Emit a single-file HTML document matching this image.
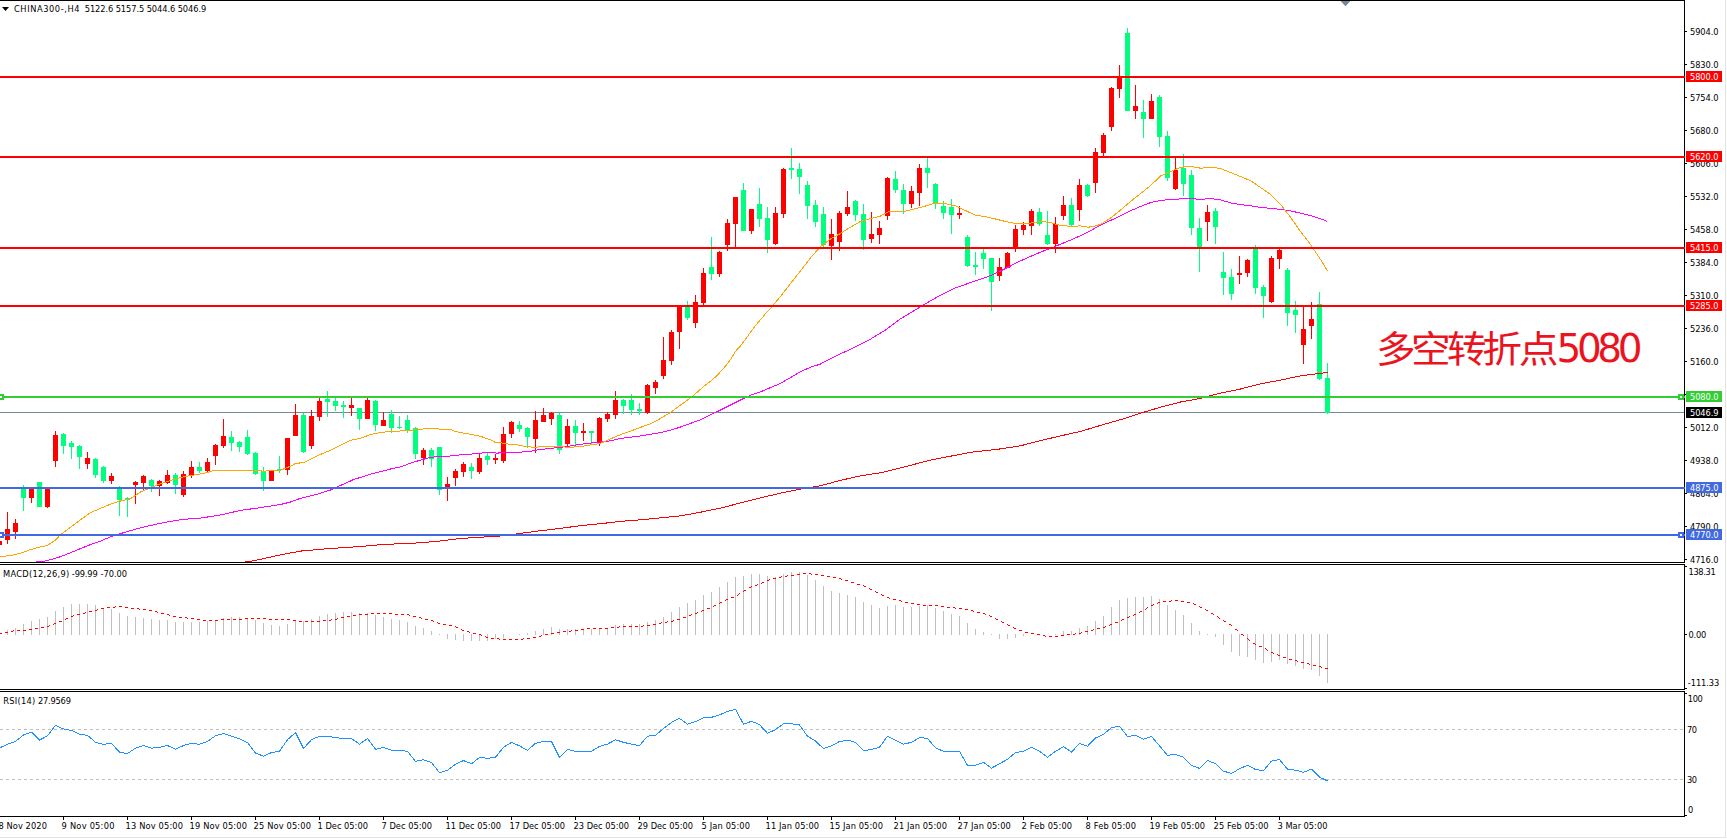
<!DOCTYPE html><html><head><meta charset="utf-8"><title>CHINA300 H4</title><style>html,body{margin:0;padding:0;background:#fff;width:1727px;height:839px;overflow:hidden}</style></head><body><svg width="1727" height="839" viewBox="0 0 1727 839" shape-rendering="crispEdges" style="display:block"><rect x="0" y="0" width="1727" height="839" fill="#FFFFFF"/><defs><clipPath id="cm"><rect x="0" y="1" width="1684" height="561"/></clipPath><clipPath id="cd"><rect x="0" y="565" width="1684" height="124"/></clipPath><clipPath id="cr"><rect x="0" y="692" width="1684" height="124"/></clipPath></defs><g clip-path="url(#cm)"><rect x="0" y="412" width="1684" height="1" fill="#778899"/><path fill="#FF0000" d="M-1 541h1v4h-1zM-3 541h5v4h-5zM7 512h1v32h-1zM5 529h5v11h-5zM15 519h1v20h-1zM13 523h5v9h-5zM31 487h1v16h-1zM29 489h5v9h-5zM47 489h1v19h-1zM45 489h5v18h-5zM55 431h1v36h-1zM53 435h5v26h-5zM87 452h1v17h-1zM85 458h5v6h-5zM111 473h1v11h-1zM109 476h5v5h-5zM135 481h1v23h-1zM133 482h5v3h-5zM143 475h1v16h-1zM141 476h5v7h-5zM159 480h1v16h-1zM157 481h5v5h-5zM167 470h1v14h-1zM165 475h5v8h-5zM183 471h1v26h-1zM181 474h5v21h-5zM191 461h1v17h-1zM189 467h5v9h-5zM207 458h1v14h-1zM205 462h5v9h-5zM215 444h1v21h-1zM213 445h5v11h-5zM223 419h1v29h-1zM221 436h5v10h-5zM271 470h1v11h-1zM269 470h5v11h-5zM287 438h1v37h-1zM285 438h5v32h-5zM295 404h1v32h-1zM293 415h5v21h-5zM311 410h1v39h-1zM309 416h5v30h-5zM319 398h1v23h-1zM317 401h5v16h-5zM351 398h1v18h-1zM349 405h5v3h-5zM367 398h1v21h-1zM365 400h5v19h-5zM383 412h1v14h-1zM381 420h5v6h-5zM423 448h1v17h-1zM421 450h5v8h-5zM447 477h1v24h-1zM445 484h5v3h-5zM455 469h1v17h-1zM453 471h5v7h-5zM463 462h1v15h-1zM461 464h5v8h-5zM479 453h1v21h-1zM477 458h5v14h-5zM495 454h1v10h-1zM493 458h5v2h-5zM503 427h1v36h-1zM501 434h5v27h-5zM511 421h1v17h-1zM509 422h5v12h-5zM535 411h1v42h-1zM533 420h5v19h-5zM543 408h1v14h-1zM541 415h5v7h-5zM551 412h1v13h-1zM549 413h5v6h-5zM567 419h1v27h-1zM565 426h5v18h-5zM583 423h1v18h-1zM581 431h5v2h-5zM599 417h1v29h-1zM597 418h5v25h-5zM607 412h1v10h-1zM605 414h5v5h-5zM615 391h1v28h-1zM613 400h5v15h-5zM647 384h1v30h-1zM645 385h5v28h-5zM655 380h1v14h-1zM653 382h5v6h-5zM663 337h1v42h-1zM661 360h5v16h-5zM671 330h1v35h-1zM669 332h5v29h-5zM679 305h1v44h-1zM677 306h5v26h-5zM695 295h1v33h-1zM693 302h5v21h-5zM703 268h1v37h-1zM701 273h5v30h-5zM719 251h1v26h-1zM717 252h5v22h-5zM727 219h1v32h-1zM725 223h5v22h-5zM735 197h1v50h-1zM733 197h5v27h-5zM751 209h1v25h-1zM749 209h5v22h-5zM775 207h1v38h-1zM773 213h5v31h-5zM783 168h1v50h-1zM781 169h5v45h-5zM831 219h1v41h-1zM829 234h5v12h-5zM839 211h1v40h-1zM837 213h5v29h-5zM847 191h1v25h-1zM845 207h5v7h-5zM871 212h1v31h-1zM869 234h5v5h-5zM879 221h1v23h-1zM877 228h5v7h-5zM887 177h1v43h-1zM885 178h5v38h-5zM911 186h1v22h-1zM909 191h5v13h-5zM919 164h1v42h-1zM917 168h5v25h-5zM959 206h1v13h-1zM957 213h5v2h-5zM999 258h1v23h-1zM997 267h5v9h-5zM1007 252h1v16h-1zM1005 253h5v15h-5zM1015 225h1v27h-1zM1013 229h5v19h-5zM1023 222h1v13h-1zM1021 225h5v5h-5zM1031 209h1v26h-1zM1029 211h5v15h-5zM1055 217h1v36h-1zM1053 224h5v20h-5zM1063 196h1v24h-1zM1061 205h5v11h-5zM1079 179h1v42h-1zM1077 185h5v25h-5zM1095 148h1v45h-1zM1093 152h5v31h-5zM1103 133h1v24h-1zM1101 135h5v18h-5zM1111 87h1v44h-1zM1109 88h5v39h-5zM1119 65h1v33h-1zM1117 78h5v11h-5zM1135 85h1v34h-1zM1133 106h5v5h-5zM1151 94h1v25h-1zM1149 101h5v18h-5zM1175 157h1v33h-1zM1173 170h5v19h-5zM1207 205h1v36h-1zM1205 212h5v10h-5zM1239 256h1v28h-1zM1237 273h5v2h-5zM1247 259h1v18h-1zM1245 260h5v13h-5zM1271 256h1v47h-1zM1269 258h5v44h-5zM1279 248h1v21h-1zM1277 250h5v9h-5zM1303 306h1v58h-1zM1301 329h5v16h-5zM1311 302h1v37h-1zM1309 319h5v7h-5z"/><path fill="#00FF7F" d="M23 485h1v26h-1zM21 489h5v9h-5zM39 482h1v25h-1zM37 482h5v25h-5zM63 433h1v21h-1zM61 434h5v12h-5zM71 441h1v18h-1zM69 443h5v4h-5zM79 445h1v24h-1zM77 446h5v11h-5zM95 458h1v20h-1zM93 459h5v16h-5zM103 466h1v17h-1zM101 467h5v14h-5zM119 486h1v30h-1zM117 487h5v13h-5zM127 497h1v20h-1zM125 498h5v2h-5zM151 479h1v13h-1zM149 480h5v6h-5zM175 473h1v21h-1zM173 475h5v10h-5zM199 462h1v11h-1zM197 467h5v4h-5zM231 431h1v20h-1zM229 437h5v6h-5zM239 441h1v11h-1zM237 442h5v5h-5zM247 430h1v25h-1zM245 437h5v17h-5zM255 452h1v23h-1zM253 453h5v21h-5zM263 467h1v24h-1zM261 471h5v10h-5zM279 456h1v17h-1zM277 469h5v1h-5zM303 413h1v40h-1zM301 415h5v37h-5zM327 391h1v26h-1zM325 399h5v3h-5zM335 398h1v13h-1zM333 401h5v5h-5zM343 401h1v17h-1zM341 405h5v2h-5zM359 408h1v22h-1zM357 408h5v11h-5zM375 400h1v31h-1zM373 401h5v24h-5zM391 410h1v23h-1zM389 414h5v14h-5zM399 416h1v13h-1zM397 427h5v1h-5zM407 415h1v18h-1zM405 420h5v10h-5zM415 427h1v32h-1zM413 428h5v26h-5zM431 448h1v19h-1zM429 450h5v9h-5zM439 447h1v48h-1zM437 447h5v43h-5zM471 463h1v16h-1zM469 467h5v4h-5zM487 453h1v12h-1zM485 456h5v4h-5zM519 421h1v11h-1zM517 425h5v4h-5zM527 427h1v21h-1zM525 428h5v9h-5zM559 413h1v41h-1zM557 415h5v35h-5zM575 420h1v25h-1zM573 426h5v7h-5zM591 431h1v14h-1zM589 431h5v2h-5zM623 399h1v15h-1zM621 400h5v6h-5zM631 394h1v21h-1zM629 400h5v10h-5zM639 403h1v12h-1zM637 409h5v2h-5zM687 301h1v19h-1zM685 307h5v11h-5zM711 237h1v43h-1zM709 267h5v7h-5zM743 183h1v48h-1zM741 190h5v41h-5zM759 188h1v39h-1zM757 204h5v15h-5zM767 207h1v46h-1zM765 218h5v22h-5zM791 148h1v31h-1zM789 168h5v2h-5zM799 163h1v31h-1zM797 169h5v8h-5zM807 181h1v38h-1zM805 185h5v21h-5zM815 200h1v27h-1zM813 205h5v17h-5zM823 207h1v40h-1zM821 214h5v31h-5zM855 200h1v21h-1zM853 201h5v14h-5zM863 204h1v46h-1zM861 214h5v26h-5zM895 171h1v22h-1zM893 179h5v11h-5zM903 184h1v30h-1zM901 190h5v14h-5zM927 158h1v30h-1zM925 168h5v5h-5zM935 183h1v26h-1zM933 184h5v19h-5zM943 201h1v18h-1zM941 206h5v7h-5zM951 199h1v35h-1zM949 207h5v8h-5zM967 235h1v32h-1zM965 237h5v29h-5zM975 252h1v23h-1zM973 265h5v2h-5zM983 249h1v20h-1zM981 253h5v6h-5zM991 258h1v53h-1zM989 258h5v24h-5zM1039 208h1v18h-1zM1037 212h5v12h-5zM1047 211h1v34h-1zM1045 235h5v9h-5zM1071 198h1v28h-1zM1069 205h5v20h-5zM1087 184h1v13h-1zM1085 185h5v11h-5zM1127 28h1v83h-1zM1125 33h5v78h-5zM1143 100h1v38h-1zM1141 112h5v7h-5zM1159 95h1v52h-1zM1157 97h5v40h-5zM1167 131h1v50h-1zM1165 136h5v42h-5zM1183 154h1v42h-1zM1181 168h5v16h-5zM1191 170h1v65h-1zM1189 175h5v53h-5zM1199 218h1v54h-1zM1197 228h5v19h-5zM1215 208h1v36h-1zM1213 211h5v16h-5zM1223 252h1v43h-1zM1221 272h5v6h-5zM1231 269h1v31h-1zM1229 277h5v17h-5zM1255 245h1v49h-1zM1253 249h5v39h-5zM1263 285h1v33h-1zM1261 287h5v9h-5zM1287 268h1v58h-1zM1285 270h5v43h-5zM1295 301h1v32h-1zM1293 310h5v5h-5zM1319 292h1v88h-1zM1317 304h5v75h-5zM1327 363h1v51h-1zM1325 378h5v35h-5z"/><polyline fill="none" stroke="#FF0000" stroke-width="1" points="243.5,562.3 255.5,560.4 280.5,554.9 300.5,551.1 320.5,549.3 340.5,547.8 360.5,546.5 380.5,544.7 400.5,543.7 420.5,542.8 440.5,541.0 460.5,538.5 480.5,537.2 500.5,536.0 523.5,533.0 540.5,530.7 560.5,528.4 580.5,525.6 600.5,523.7 620.5,521.4 640.5,519.8 660.5,517.9 680.5,515.9 700.5,512.2 720.5,508.2 740.5,502.9 760.5,497.8 780.5,493.2 800.5,489.0 820.5,485.7 840.5,480.4 860.5,475.8 880.5,472.8 890.5,470.5 930.5,460.1 970.5,452.3 1000.5,448.9 1020.5,445.8 1040.5,440.6 1060.5,435.9 1080.5,431.4 1100.5,425.4 1120.5,419.7 1140.5,413.2 1160.5,407.2 1180.5,402.0 1200.5,398.4 1220.5,393.1 1240.5,389.0 1260.5,383.8 1280.5,380.1 1300.5,375.9 1320.5,373.3 1327.5,372.3" /><polyline fill="none" stroke="#FF00FF" stroke-width="1" points="35.5,561.4 43.5,561.4 48.5,560.2 60.5,556.7 70.5,552.7 80.5,548.6 90.5,544.6 100.5,541.1 110.5,536.8 120.5,533.6 130.5,530.7 140.5,527.8 150.5,525.5 160.5,523.2 170.5,521.4 180.5,519.7 190.5,518.8 200.5,518.1 220.5,515.0 240.5,510.4 260.5,507.6 280.5,504.5 290.5,502.0 300.5,498.3 320.5,493.3 330.5,490.0 340.5,485.5 353.5,479.6 370.5,474.2 380.5,471.7 390.5,469.0 400.5,467.0 410.5,463.2 420.5,460.1 430.5,457.4 440.5,456.3 450.5,456.0 460.5,454.8 470.5,454.1 480.5,453.3 485.5,452.4 492.5,452.4 497.5,453.3 500.5,452.4 520.5,452.4 525.5,451.4 530.5,451.2 535.5,450.3 540.5,449.5 550.5,448.4 560.5,447.4 570.5,446.0 580.5,444.3 590.5,443.1 600.5,442.0 610.5,440.8 620.5,438.4 630.5,437.2 640.5,435.9 650.5,434.3 660.5,432.5 670.5,430.3 680.5,427.0 690.5,423.4 700.5,419.7 710.5,414.9 720.5,410.0 730.5,405.0 740.5,400.0 750.5,395.1 760.5,391.9 770.5,387.6 780.5,383.4 790.5,377.6 800.5,371.6 810.5,367.3 820.5,364.0 830.5,358.6 850.5,349.2 870.5,339.1 885.5,330.0 900.5,318.8 920.5,306.8 937.5,296.8 953.5,288.6 970.5,282.6 987.5,276.8 995.5,273.4 1003.5,269.5 1020.5,260.9 1037.5,253.4 1054.5,246.7 1070.5,240.1 1087.5,232.5 1100.5,225.0 1110.5,220.5 1120.5,215.8 1130.5,210.8 1140.5,206.5 1150.5,202.6 1160.5,200.4 1170.5,199.6 1180.5,198.9 1190.5,198.6 1200.5,199.3 1210.5,198.6 1220.5,199.8 1230.5,202.9 1240.5,204.6 1250.5,205.8 1260.5,207.4 1270.5,208.4 1280.5,209.4 1290.5,210.8 1300.5,213.2 1310.5,215.5 1320.5,218.7 1327.5,221.5" /><polyline fill="none" stroke="#FFA500" stroke-width="1" points="0.5,556.5 10.5,555.6 20.5,553.3 30.5,549.6 40.5,546.9 47.5,545.4 55.5,540.0 60.5,534.7 70.5,527.2 80.5,519.7 90.5,512.7 100.5,508.3 110.5,504.2 120.5,501.0 130.5,498.6 140.5,492.0 150.5,487.7 160.5,483.8 170.5,480.5 180.5,477.6 190.5,475.5 200.5,474.0 210.5,471.7 213.5,470.3 255.5,470.3 260.5,470.6 263.5,471.7 268.5,470.3 280.5,470.2 290.5,466.2 295.5,463.5 304.5,462.4 310.5,459.2 320.5,454.4 330.5,450.3 340.5,445.3 350.5,440.4 360.5,438.3 370.5,434.5 380.5,432.5 390.5,431.4 400.5,431.0 410.5,430.3 420.5,429.4 428.5,428.2 435.5,428.2 440.5,429.4 450.5,429.4 455.5,431.5 462.5,433.0 470.5,434.2 480.5,436.3 490.5,439.8 495.5,442.5 500.5,442.7 508.5,444.1 515.5,444.6 520.5,445.5 525.5,446.5 535.5,447.4 540.5,446.5 555.5,446.7 570.5,447.2 580.5,446.6 590.5,445.0 600.5,443.4 610.5,438.8 620.5,434.7 630.5,431.1 640.5,427.4 650.5,423.8 660.5,418.5 670.5,412.4 680.5,405.1 690.5,397.8 693.5,395.4 700.5,389.2 705.5,384.9 710.5,381.3 715.5,376.9 720.5,371.8 725.5,366.1 730.5,359.6 735.5,351.3 740.5,345.9 745.5,339.3 750.5,332.2 755.5,325.6 760.5,319.7 765.5,313.7 770.5,308.3 780.5,296.5 790.5,283.6 800.5,270.8 810.5,257.9 820.5,246.5 830.5,239.0 840.5,233.4 850.5,227.1 860.5,221.4 870.5,218.6 880.5,216.0 887.5,212.1 895.5,211.1 905.5,211.1 915.5,208.6 925.5,206.0 935.5,203.0 945.5,203.8 955.5,205.7 960.5,208.2 970.5,212.9 975.5,215.2 985.5,216.7 995.5,219.0 1005.5,221.5 1015.5,223.4 1025.5,223.4 1035.5,222.7 1040.5,221.3 1050.5,222.7 1060.5,225.4 1070.5,226.3 1080.5,225.9 1088.5,227.2 1095.5,225.9 1100.5,224.4 1110.5,218.1 1120.5,210.1 1130.5,201.5 1140.5,193.6 1150.5,185.7 1160.5,176.0 1170.5,171.5 1180.5,167.4 1190.5,166.3 1200.5,168.2 1210.5,167.3 1220.5,168.4 1230.5,172.5 1240.5,176.5 1250.5,180.6 1260.5,187.5 1270.5,194.3 1280.5,204.3 1290.5,217.2 1300.5,231.5 1310.5,244.4 1320.5,259.4 1327.5,271.0" /></g><g clip-path="url(#cd)"><path fill="#C0C0C0" d="M7 630h1v5h-1zM15 628h1v7h-1zM23 624h1v11h-1zM31 621h1v14h-1zM39 619h1v16h-1zM47 617h1v18h-1zM55 611h1v24h-1zM63 607h1v28h-1zM71 604h1v31h-1zM79 604h1v31h-1zM87 604h1v31h-1zM95 605h1v30h-1zM103 608h1v27h-1zM111 609h1v26h-1zM119 613h1v22h-1zM127 616h1v19h-1zM135 617h1v18h-1zM143 618h1v17h-1zM151 619h1v16h-1zM159 620h1v15h-1zM167 620h1v15h-1zM175 622h1v13h-1zM183 622h1v13h-1zM191 622h1v13h-1zM199 622h1v13h-1zM207 621h1v14h-1zM215 620h1v15h-1zM223 618h1v17h-1zM231 617h1v18h-1zM239 617h1v18h-1zM247 618h1v17h-1zM255 620h1v15h-1zM263 623h1v12h-1zM271 625h1v10h-1zM279 626h1v9h-1zM287 624h1v11h-1zM295 621h1v14h-1zM303 621h1v14h-1zM311 619h1v16h-1zM319 616h1v19h-1zM327 614h1v21h-1zM335 613h1v22h-1zM343 612h1v23h-1zM351 612h1v23h-1zM359 613h1v22h-1zM367 613h1v22h-1zM375 615h1v20h-1zM383 617h1v18h-1zM391 619h1v16h-1zM399 620h1v15h-1zM407 622h1v13h-1zM415 626h1v9h-1zM423 628h1v7h-1zM431 631h1v4h-1zM439 634h1v1h-1zM447 634h1v5h-1zM455 634h1v6h-1zM463 634h1v7h-1zM471 634h1v7h-1zM479 634h1v7h-1zM487 634h1v7h-1zM495 634h1v5h-1zM503 634h1v4h-1zM519 634h1v1h-1zM527 633h1v2h-1zM535 631h1v4h-1zM543 629h1v6h-1zM551 627h1v8h-1zM559 629h1v6h-1zM567 629h1v6h-1zM575 629h1v6h-1zM583 629h1v6h-1zM591 629h1v6h-1zM599 628h1v7h-1zM607 628h1v7h-1zM615 625h1v10h-1zM623 624h1v11h-1zM631 624h1v11h-1zM639 624h1v11h-1zM647 622h1v13h-1zM655 620h1v15h-1zM663 617h1v18h-1zM671 612h1v23h-1zM679 607h1v28h-1zM687 603h1v32h-1zM695 600h1v35h-1zM703 595h1v40h-1zM711 592h1v43h-1zM719 587h1v48h-1zM727 582h1v53h-1zM735 577h1v58h-1zM743 576h1v59h-1zM751 574h1v61h-1zM759 574h1v61h-1zM767 576h1v59h-1zM775 577h1v58h-1zM783 574h1v61h-1zM791 572h1v63h-1zM799 572h1v63h-1zM807 575h1v60h-1zM815 580h1v55h-1zM823 586h1v49h-1zM831 591h1v44h-1zM839 593h1v42h-1zM847 595h1v40h-1zM855 597h1v38h-1zM863 602h1v33h-1zM871 605h1v30h-1zM879 608h1v27h-1zM887 606h1v29h-1zM895 605h1v30h-1zM903 607h1v28h-1zM911 607h1v28h-1zM919 606h1v29h-1zM927 605h1v30h-1zM935 608h1v27h-1zM943 611h1v24h-1zM951 614h1v21h-1zM959 616h1v19h-1zM967 623h1v12h-1zM975 629h1v6h-1zM983 632h1v3h-1zM991 634h1v1h-1zM999 634h1v5h-1zM1007 634h1v5h-1zM1015 634h1v4h-1zM1023 634h1v2h-1zM1055 634h1v1h-1zM1063 631h1v4h-1zM1071 631h1v4h-1zM1079 628h1v7h-1zM1087 626h1v9h-1zM1095 621h1v14h-1zM1103 616h1v19h-1zM1111 607h1v28h-1zM1119 600h1v35h-1zM1127 598h1v37h-1zM1135 597h1v38h-1zM1143 597h1v38h-1zM1151 596h1v39h-1zM1159 599h1v36h-1zM1167 605h1v30h-1zM1175 610h1v25h-1zM1183 615h1v20h-1zM1191 623h1v12h-1zM1199 631h1v4h-1zM1207 634h1v1h-1zM1215 634h1v3h-1zM1223 634h1v11h-1zM1231 634h1v18h-1zM1239 634h1v22h-1zM1247 634h1v23h-1zM1255 634h1v26h-1zM1263 634h1v29h-1zM1271 634h1v28h-1zM1279 634h1v26h-1zM1287 634h1v30h-1zM1295 634h1v32h-1zM1303 634h1v35h-1zM1311 634h1v36h-1zM1319 634h1v42h-1zM1327 634h1v49h-1z"/><path fill="#FF0000" d="M-1 633h1v1h-1zM0 633h1v1h-1zM1 633h1v1h-1zM5 632h1v1h-1zM6 632h1v1h-1zM7 632h1v1h-1zM11 631h1v1h-1zM12 631h1v1h-1zM13 630h1v1h-1zM17 630h1v1h-1zM18 630h1v1h-1zM19 630h1v1h-1zM23 630h1v1h-1zM24 630h1v1h-1zM25 630h1v1h-1zM29 629h1v1h-1zM30 629h1v1h-1zM31 629h1v1h-1zM35 628h1v1h-1zM36 628h1v1h-1zM37 628h1v1h-1zM41 627h1v1h-1zM42 627h1v1h-1zM43 627h1v1h-1zM47 626h1v1h-1zM48 626h1v1h-1zM49 625h1v1h-1zM53 624h1v1h-1zM54 623h1v1h-1zM55 623h1v1h-1zM59 621h1v1h-1zM60 621h1v1h-1zM61 621h1v1h-1zM65 619h1v1h-1zM66 618h1v1h-1zM67 618h1v1h-1zM71 616h1v1h-1zM72 616h1v1h-1zM73 615h1v1h-1zM77 614h1v1h-1zM78 614h1v1h-1zM79 614h1v1h-1zM83 613h1v1h-1zM84 613h1v1h-1zM85 612h1v1h-1zM89 611h1v1h-1zM90 611h1v1h-1zM91 611h1v1h-1zM95 610h1v1h-1zM96 610h1v1h-1zM97 609h1v1h-1zM101 608h1v1h-1zM102 608h1v1h-1zM103 608h1v1h-1zM107 607h1v1h-1zM108 607h1v1h-1zM109 607h1v1h-1zM113 607h1v1h-1zM114 607h1v1h-1zM115 606h1v1h-1zM119 606h1v1h-1zM120 606h1v1h-1zM121 606h1v1h-1zM125 607h1v1h-1zM126 607h1v1h-1zM127 607h1v1h-1zM131 608h1v1h-1zM132 608h1v1h-1zM133 608h1v1h-1zM137 608h1v1h-1zM138 608h1v1h-1zM139 609h1v1h-1zM143 609h1v1h-1zM144 609h1v1h-1zM145 609h1v1h-1zM149 610h1v1h-1zM150 610h1v1h-1zM151 610h1v1h-1zM155 611h1v1h-1zM156 611h1v1h-1zM157 612h1v1h-1zM161 613h1v1h-1zM162 613h1v1h-1zM163 613h1v1h-1zM167 614h1v1h-1zM168 614h1v1h-1zM169 615h1v1h-1zM173 616h1v1h-1zM174 616h1v1h-1zM175 616h1v1h-1zM179 617h1v1h-1zM180 617h1v1h-1zM181 617h1v1h-1zM185 617h1v1h-1zM186 617h1v1h-1zM187 618h1v1h-1zM191 618h1v1h-1zM192 618h1v1h-1zM193 618h1v1h-1zM197 619h1v1h-1zM198 619h1v1h-1zM199 619h1v1h-1zM203 620h1v1h-1zM204 620h1v1h-1zM205 620h1v1h-1zM209 620h1v1h-1zM210 620h1v1h-1zM211 620h1v1h-1zM215 620h1v1h-1zM216 620h1v1h-1zM217 620h1v1h-1zM221 619h1v1h-1zM222 619h1v1h-1zM223 619h1v1h-1zM227 619h1v1h-1zM228 619h1v1h-1zM229 619h1v1h-1zM233 619h1v1h-1zM234 619h1v1h-1zM235 619h1v1h-1zM239 619h1v1h-1zM240 619h1v1h-1zM241 619h1v1h-1zM245 618h1v1h-1zM246 618h1v1h-1zM247 618h1v1h-1zM251 618h1v1h-1zM252 618h1v1h-1zM253 618h1v1h-1zM257 618h1v1h-1zM258 618h1v1h-1zM259 618h1v1h-1zM263 618h1v1h-1zM264 618h1v1h-1zM265 618h1v1h-1zM269 619h1v1h-1zM270 619h1v1h-1zM271 619h1v1h-1zM275 619h1v1h-1zM276 619h1v1h-1zM277 619h1v1h-1zM281 619h1v1h-1zM282 619h1v1h-1zM283 619h1v1h-1zM287 619h1v1h-1zM288 619h1v1h-1zM289 619h1v1h-1zM293 620h1v1h-1zM294 620h1v1h-1zM295 620h1v1h-1zM299 621h1v1h-1zM300 621h1v1h-1zM301 621h1v1h-1zM305 621h1v1h-1zM306 621h1v1h-1zM307 621h1v1h-1zM311 621h1v1h-1zM312 621h1v1h-1zM313 621h1v1h-1zM317 621h1v1h-1zM318 621h1v1h-1zM319 621h1v1h-1zM323 620h1v1h-1zM324 620h1v1h-1zM325 620h1v1h-1zM329 620h1v1h-1zM330 620h1v1h-1zM331 619h1v1h-1zM335 619h1v1h-1zM336 619h1v1h-1zM337 618h1v1h-1zM341 617h1v1h-1zM342 617h1v1h-1zM343 617h1v1h-1zM347 616h1v1h-1zM348 616h1v1h-1zM349 616h1v1h-1zM353 615h1v1h-1zM354 615h1v1h-1zM355 615h1v1h-1zM359 614h1v1h-1zM360 614h1v1h-1zM361 614h1v1h-1zM365 614h1v1h-1zM366 614h1v1h-1zM367 614h1v1h-1zM371 613h1v1h-1zM372 613h1v1h-1zM373 613h1v1h-1zM377 613h1v1h-1zM378 613h1v1h-1zM379 613h1v1h-1zM383 613h1v1h-1zM384 613h1v1h-1zM385 613h1v1h-1zM389 613h1v1h-1zM390 613h1v1h-1zM391 613h1v1h-1zM395 614h1v1h-1zM396 614h1v1h-1zM397 614h1v1h-1zM401 614h1v1h-1zM402 614h1v1h-1zM403 614h1v1h-1zM407 614h1v1h-1zM408 614h1v1h-1zM409 615h1v1h-1zM413 616h1v1h-1zM414 616h1v1h-1zM415 616h1v1h-1zM419 617h1v1h-1zM420 617h1v1h-1zM421 618h1v1h-1zM425 619h1v1h-1zM426 619h1v1h-1zM427 619h1v1h-1zM431 620h1v1h-1zM432 620h1v1h-1zM433 621h1v1h-1zM437 622h1v1h-1zM438 623h1v1h-1zM439 623h1v1h-1zM443 624h1v1h-1zM444 624h1v1h-1zM445 624h1v1h-1zM449 625h1v1h-1zM450 625h1v1h-1zM451 625h1v1h-1zM455 626h1v1h-1zM456 627h1v1h-1zM457 627h1v1h-1zM461 629h1v1h-1zM462 630h1v1h-1zM463 630h1v1h-1zM467 631h1v1h-1zM468 631h1v1h-1zM469 632h1v1h-1zM473 633h1v1h-1zM474 633h1v1h-1zM475 633h1v1h-1zM479 634h1v1h-1zM480 634h1v1h-1zM481 635h1v1h-1zM485 636h1v1h-1zM486 637h1v1h-1zM487 637h1v1h-1zM491 638h1v1h-1zM492 638h1v1h-1zM493 638h1v1h-1zM497 638h1v1h-1zM498 638h1v1h-1zM499 639h1v1h-1zM503 639h1v1h-1zM504 639h1v1h-1zM505 639h1v1h-1zM509 639h1v1h-1zM510 639h1v1h-1zM511 639h1v1h-1zM515 639h1v1h-1zM516 639h1v1h-1zM517 639h1v1h-1zM521 639h1v1h-1zM522 639h1v1h-1zM523 638h1v1h-1zM527 638h1v1h-1zM528 638h1v1h-1zM529 638h1v1h-1zM533 637h1v1h-1zM534 637h1v1h-1zM535 637h1v1h-1zM539 636h1v1h-1zM540 636h1v1h-1zM541 635h1v1h-1zM545 634h1v1h-1zM546 634h1v1h-1zM547 634h1v1h-1zM551 633h1v1h-1zM552 633h1v1h-1zM553 633h1v1h-1zM557 632h1v1h-1zM558 632h1v1h-1zM559 632h1v1h-1zM563 631h1v1h-1zM564 631h1v1h-1zM565 631h1v1h-1zM569 631h1v1h-1zM570 631h1v1h-1zM571 630h1v1h-1zM575 630h1v1h-1zM576 630h1v1h-1zM577 630h1v1h-1zM581 629h1v1h-1zM582 629h1v1h-1zM583 629h1v1h-1zM587 628h1v1h-1zM588 628h1v1h-1zM589 628h1v1h-1zM593 628h1v1h-1zM594 628h1v1h-1zM595 628h1v1h-1zM599 628h1v1h-1zM600 628h1v1h-1zM601 628h1v1h-1zM605 628h1v1h-1zM606 628h1v1h-1zM607 628h1v1h-1zM611 627h1v1h-1zM612 627h1v1h-1zM613 627h1v1h-1zM617 627h1v1h-1zM618 627h1v1h-1zM619 626h1v1h-1zM623 626h1v1h-1zM624 626h1v1h-1zM625 626h1v1h-1zM629 626h1v1h-1zM630 626h1v1h-1zM631 626h1v1h-1zM635 626h1v1h-1zM636 626h1v1h-1zM637 626h1v1h-1zM641 626h1v1h-1zM642 626h1v1h-1zM643 625h1v1h-1zM647 625h1v1h-1zM648 625h1v1h-1zM649 625h1v1h-1zM653 624h1v1h-1zM654 624h1v1h-1zM655 624h1v1h-1zM659 623h1v1h-1zM660 623h1v1h-1zM661 622h1v1h-1zM665 622h1v1h-1zM666 622h1v1h-1zM667 621h1v1h-1zM671 621h1v1h-1zM672 621h1v1h-1zM673 620h1v1h-1zM677 619h1v1h-1zM678 619h1v1h-1zM679 619h1v1h-1zM683 617h1v1h-1zM684 617h1v1h-1zM685 617h1v1h-1zM689 615h1v1h-1zM690 615h1v1h-1zM691 614h1v1h-1zM695 613h1v1h-1zM696 613h1v1h-1zM697 612h1v1h-1zM701 611h1v1h-1zM702 610h1v1h-1zM703 610h1v1h-1zM707 608h1v1h-1zM708 608h1v1h-1zM709 608h1v1h-1zM713 606h1v1h-1zM714 605h1v1h-1zM715 605h1v1h-1zM719 603h1v1h-1zM720 602h1v1h-1zM721 602h1v1h-1zM725 600h1v1h-1zM726 599h1v1h-1zM727 599h1v1h-1zM731 597h1v1h-1zM732 597h1v1h-1zM733 597h1v1h-1zM737 595h1v1h-1zM738 594h1v1h-1zM739 593h1v1h-1zM743 591h1v1h-1zM744 590h1v1h-1zM745 590h1v1h-1zM749 587h1v1h-1zM750 587h1v1h-1zM751 586h1v1h-1zM755 585h1v1h-1zM756 585h1v1h-1zM757 584h1v1h-1zM761 583h1v1h-1zM762 582h1v1h-1zM763 582h1v1h-1zM767 580h1v1h-1zM768 580h1v1h-1zM769 579h1v1h-1zM773 578h1v1h-1zM774 578h1v1h-1zM775 578h1v1h-1zM779 577h1v1h-1zM780 577h1v1h-1zM781 576h1v1h-1zM785 576h1v1h-1zM786 576h1v1h-1zM787 575h1v1h-1zM791 575h1v1h-1zM792 575h1v1h-1zM793 575h1v1h-1zM797 574h1v1h-1zM798 574h1v1h-1zM799 574h1v1h-1zM803 573h1v1h-1zM804 573h1v1h-1zM805 573h1v1h-1zM809 573h1v1h-1zM810 573h1v1h-1zM811 574h1v1h-1zM815 574h1v1h-1zM816 574h1v1h-1zM817 574h1v1h-1zM821 575h1v1h-1zM822 575h1v1h-1zM823 575h1v1h-1zM827 576h1v1h-1zM828 576h1v1h-1zM829 576h1v1h-1zM833 577h1v1h-1zM834 577h1v1h-1zM835 577h1v1h-1zM839 578h1v1h-1zM840 578h1v1h-1zM841 579h1v1h-1zM845 580h1v1h-1zM846 580h1v1h-1zM847 580h1v1h-1zM851 582h1v1h-1zM852 582h1v1h-1zM853 582h1v1h-1zM857 584h1v1h-1zM858 584h1v1h-1zM859 584h1v1h-1zM863 585h1v1h-1zM864 586h1v1h-1zM865 586h1v1h-1zM869 588h1v1h-1zM870 589h1v1h-1zM871 589h1v1h-1zM875 591h1v1h-1zM876 592h1v1h-1zM877 592h1v1h-1zM881 594h1v1h-1zM882 595h1v1h-1zM883 595h1v1h-1zM887 597h1v1h-1zM888 597h1v1h-1zM889 598h1v1h-1zM893 599h1v1h-1zM894 599h1v1h-1zM895 599h1v1h-1zM899 600h1v1h-1zM900 600h1v1h-1zM901 601h1v1h-1zM905 602h1v1h-1zM906 602h1v1h-1zM907 602h1v1h-1zM911 603h1v1h-1zM912 603h1v1h-1zM913 603h1v1h-1zM917 604h1v1h-1zM918 604h1v1h-1zM919 604h1v1h-1zM923 605h1v1h-1zM924 605h1v1h-1zM925 605h1v1h-1zM929 605h1v1h-1zM930 605h1v1h-1zM931 605h1v1h-1zM935 605h1v1h-1zM936 605h1v1h-1zM937 605h1v1h-1zM941 606h1v1h-1zM942 606h1v1h-1zM943 606h1v1h-1zM947 607h1v1h-1zM948 607h1v1h-1zM949 607h1v1h-1zM953 607h1v1h-1zM954 607h1v1h-1zM955 608h1v1h-1zM959 608h1v1h-1zM960 608h1v1h-1zM961 608h1v1h-1zM965 609h1v1h-1zM966 609h1v1h-1zM967 609h1v1h-1zM971 610h1v1h-1zM972 610h1v1h-1zM973 611h1v1h-1zM977 612h1v1h-1zM978 612h1v1h-1zM979 612h1v1h-1zM983 613h1v1h-1zM984 613h1v1h-1zM985 614h1v1h-1zM989 615h1v1h-1zM990 616h1v1h-1zM991 616h1v1h-1zM995 618h1v1h-1zM996 619h1v1h-1zM997 619h1v1h-1zM1001 621h1v1h-1zM1002 622h1v1h-1zM1003 622h1v1h-1zM1007 624h1v1h-1zM1008 625h1v1h-1zM1009 625h1v1h-1zM1013 627h1v1h-1zM1014 628h1v1h-1zM1015 628h1v1h-1zM1019 630h1v1h-1zM1020 630h1v1h-1zM1021 630h1v1h-1zM1025 632h1v1h-1zM1026 632h1v1h-1zM1027 632h1v1h-1zM1031 633h1v1h-1zM1032 633h1v1h-1zM1033 633h1v1h-1zM1037 634h1v1h-1zM1038 634h1v1h-1zM1039 634h1v1h-1zM1043 635h1v1h-1zM1044 635h1v1h-1zM1045 636h1v1h-1zM1049 636h1v1h-1zM1050 636h1v1h-1zM1051 636h1v1h-1zM1055 636h1v1h-1zM1056 636h1v1h-1zM1057 636h1v1h-1zM1061 635h1v1h-1zM1062 635h1v1h-1zM1063 635h1v1h-1zM1067 634h1v1h-1zM1068 634h1v1h-1zM1069 634h1v1h-1zM1073 634h1v1h-1zM1074 634h1v1h-1zM1075 633h1v1h-1zM1079 633h1v1h-1zM1080 633h1v1h-1zM1081 632h1v1h-1zM1085 631h1v1h-1zM1086 631h1v1h-1zM1087 631h1v1h-1zM1091 630h1v1h-1zM1092 630h1v1h-1zM1093 629h1v1h-1zM1097 628h1v1h-1zM1098 628h1v1h-1zM1099 628h1v1h-1zM1103 627h1v1h-1zM1104 627h1v1h-1zM1105 626h1v1h-1zM1109 625h1v1h-1zM1110 624h1v1h-1zM1111 624h1v1h-1zM1115 622h1v1h-1zM1116 622h1v1h-1zM1117 622h1v1h-1zM1121 620h1v1h-1zM1122 619h1v1h-1zM1123 619h1v1h-1zM1127 617h1v1h-1zM1128 617h1v1h-1zM1129 616h1v1h-1zM1133 615h1v1h-1zM1134 614h1v1h-1zM1135 614h1v1h-1zM1139 612h1v1h-1zM1140 611h1v1h-1zM1141 611h1v1h-1zM1145 609h1v1h-1zM1146 608h1v1h-1zM1147 607h1v1h-1zM1151 605h1v1h-1zM1152 605h1v1h-1zM1153 604h1v1h-1zM1157 603h1v1h-1zM1158 602h1v1h-1zM1159 602h1v1h-1zM1163 601h1v1h-1zM1164 601h1v1h-1zM1165 601h1v1h-1zM1169 601h1v1h-1zM1170 601h1v1h-1zM1171 600h1v1h-1zM1175 600h1v1h-1zM1176 600h1v1h-1zM1177 600h1v1h-1zM1181 601h1v1h-1zM1182 601h1v1h-1zM1183 601h1v1h-1zM1187 602h1v1h-1zM1188 602h1v1h-1zM1189 602h1v1h-1zM1193 603h1v1h-1zM1194 604h1v1h-1zM1195 604h1v1h-1zM1199 606h1v1h-1zM1200 607h1v1h-1zM1201 607h1v1h-1zM1205 609h1v1h-1zM1206 610h1v1h-1zM1207 610h1v1h-1zM1211 613h1v1h-1zM1212 613h1v1h-1zM1213 614h1v1h-1zM1217 616h1v1h-1zM1218 617h1v1h-1zM1219 618h1v1h-1zM1223 620h1v1h-1zM1224 621h1v1h-1zM1225 621h1v1h-1zM1229 624h1v1h-1zM1230 624h1v1h-1zM1231 625h1v1h-1zM1235 629h1v1h-1zM1236 629h1v1h-1zM1237 630h1v1h-1zM1241 634h1v1h-1zM1242 634h1v1h-1zM1243 635h1v1h-1zM1247 638h1v1h-1zM1248 639h1v1h-1zM1249 640h1v1h-1zM1253 643h1v1h-1zM1254 643h1v1h-1zM1255 644h1v1h-1zM1259 646h1v1h-1zM1260 646h1v1h-1zM1261 646h1v1h-1zM1265 648h1v1h-1zM1266 649h1v1h-1zM1267 650h1v1h-1zM1271 652h1v1h-1zM1272 652h1v1h-1zM1273 653h1v1h-1zM1277 654h1v1h-1zM1278 655h1v1h-1zM1279 655h1v1h-1zM1283 657h1v1h-1zM1284 657h1v1h-1zM1285 657h1v1h-1zM1289 659h1v1h-1zM1290 659h1v1h-1zM1291 659h1v1h-1zM1295 660h1v1h-1zM1296 660h1v1h-1zM1297 661h1v1h-1zM1301 662h1v1h-1zM1302 662h1v1h-1zM1303 662h1v1h-1zM1307 663h1v1h-1zM1308 663h1v1h-1zM1309 664h1v1h-1zM1313 665h1v1h-1zM1314 665h1v1h-1zM1315 665h1v1h-1zM1319 666h1v1h-1zM1320 666h1v1h-1zM1321 667h1v1h-1zM1325 668h1v1h-1zM1326 668h1v1h-1zM1327 668h1v1h-1z"/></g><g clip-path="url(#cr)"><path stroke="#C0C0C0" stroke-width="1" stroke-dasharray="3 3" fill="none" d="M0 729.5H1683 M0 779.5H1683"/><polyline fill="none" stroke="#1E90FF" stroke-width="1" points="-0.5,748.0 7.5,744.2 15.5,741.5 23.5,734.9 31.5,732.2 39.5,740.2 47.5,735.7 55.5,725.3 63.5,729.0 71.5,730.4 79.5,734.4 87.5,735.3 95.5,742.3 103.5,744.3 111.5,743.3 119.5,752.2 127.5,753.5 135.5,748.2 143.5,745.5 151.5,748.2 159.5,747.3 167.5,745.5 175.5,749.3 183.5,745.5 191.5,743.3 199.5,744.3 207.5,741.5 215.5,735.7 223.5,733.5 231.5,736.2 239.5,738.9 247.5,742.6 255.5,753.0 263.5,756.2 271.5,752.6 279.5,751.3 287.5,739.7 295.5,732.6 303.5,748.6 311.5,739.7 319.5,736.2 327.5,736.2 335.5,737.6 343.5,738.6 351.5,738.6 359.5,744.2 367.5,738.6 375.5,749.3 383.5,747.3 391.5,750.3 399.5,750.3 407.5,751.3 415.5,761.3 423.5,759.7 431.5,762.6 439.5,772.6 447.5,770.4 455.5,764.2 463.5,760.6 471.5,763.7 479.5,757.5 487.5,758.3 495.5,757.3 503.5,747.3 511.5,742.3 519.5,745.9 527.5,750.3 535.5,743.3 543.5,741.5 551.5,741.5 559.5,757.5 567.5,749.5 575.5,751.3 583.5,751.3 591.5,751.3 599.5,746.3 607.5,744.2 615.5,739.7 623.5,742.3 631.5,744.2 639.5,745.5 647.5,736.2 655.5,735.3 663.5,728.5 671.5,722.4 679.5,718.4 687.5,724.2 695.5,721.6 703.5,717.6 711.5,717.3 719.5,714.9 727.5,711.3 735.5,709.3 743.5,724.2 751.5,721.3 759.5,724.6 767.5,733.3 775.5,729.6 783.5,723.7 791.5,723.7 799.5,725.0 807.5,736.2 815.5,741.0 823.5,748.6 831.5,745.9 839.5,741.5 847.5,740.2 855.5,742.3 863.5,750.6 871.5,749.5 879.5,747.3 887.5,736.2 895.5,740.2 903.5,744.2 911.5,742.3 919.5,737.6 927.5,738.4 935.5,747.9 943.5,751.3 951.5,751.3 959.5,751.3 967.5,765.3 975.5,765.3 983.5,762.3 991.5,768.2 999.5,763.7 1007.5,759.3 1015.5,752.6 1023.5,751.3 1031.5,747.3 1039.5,751.3 1047.5,757.3 1055.5,751.3 1063.5,746.6 1071.5,752.2 1079.5,743.3 1087.5,746.3 1095.5,738.0 1103.5,734.4 1111.5,727.5 1119.5,726.4 1127.5,736.4 1135.5,735.4 1143.5,739.2 1151.5,736.4 1159.5,745.9 1167.5,755.3 1175.5,754.5 1183.5,757.3 1191.5,765.3 1199.5,768.4 1207.5,760.5 1215.5,763.6 1223.5,771.2 1231.5,773.4 1239.5,768.8 1247.5,765.3 1255.5,769.5 1263.5,770.6 1271.5,761.1 1279.5,759.5 1287.5,769.2 1295.5,770.2 1303.5,772.3 1311.5,769.2 1319.5,777.1 1327.5,781.0" /></g><g fill="#000000"><rect x="0" y="0" width="1685" height="1"/><rect x="0" y="562" width="1685" height="1"/><rect x="0" y="564" width="1685" height="1"/><rect x="0" y="689" width="1685" height="1"/><rect x="0" y="691" width="1685" height="1"/><rect x="0" y="816" width="1685" height="1"/><rect x="1684" y="0" width="1" height="563"/><rect x="1684" y="564" width="1" height="126"/><rect x="1684" y="691" width="1" height="126"/></g><rect x="0" y="76" width="1685" height="2" fill="#FF0000"/><rect x="0" y="156" width="1685" height="2" fill="#FF0000"/><rect x="0" y="247" width="1685" height="2" fill="#FF0000"/><rect x="0" y="305" width="1685" height="2" fill="#FF0000"/><rect x="0" y="396" width="1685" height="2" fill="#32CD32"/><rect x="0" y="487" width="1685" height="2" fill="#4169E1"/><rect x="0" y="534" width="1685" height="2" fill="#4169E1"/><path fill="#32CD32" fill-rule="evenodd" d="M-2 394h6v6h-6z M0 396h2v2h-2z"/><rect x="0" y="396" width="2" height="2" fill="#FFFFFF"/><path fill="#32CD32" fill-rule="evenodd" d="M1678 394h6v6h-6z M1680 396h2v2h-2z"/><rect x="1680" y="396" width="2" height="2" fill="#FFFFFF"/><path fill="#4169E1" fill-rule="evenodd" d="M-2 532h6v6h-6z M0 534h2v2h-2z"/><rect x="0" y="534" width="2" height="2" fill="#FFFFFF"/><path fill="#4169E1" fill-rule="evenodd" d="M1678 532h6v6h-6z M1680 534h2v2h-2z"/><rect x="1680" y="534" width="2" height="2" fill="#FFFFFF"/><rect x="1725" y="0" width="1" height="838" fill="#E3E3E3"/><rect x="0" y="837" width="1726" height="1" fill="#E3E3E3"/><polygon points="1340.6,1 1350.4,1 1345.5,6.3" fill="#76879A" shape-rendering="auto"/><g shape-rendering="auto"><polygon points="2,7 9,7 5.5,11" fill="#000"/><text x="14" y="12" font-family="'DejaVu Sans Condensed', 'DejaVu Sans', sans-serif" font-size="9.2" fill="#000" text-anchor="start" textLength="65.5" lengthAdjust="spacing" >CHINA300-,H4</text><text x="84.7" y="12" font-family="'DejaVu Sans Condensed', 'DejaVu Sans', sans-serif" font-size="9.2" fill="#000" text-anchor="start" textLength="121.5" lengthAdjust="spacing" >5122.6 5157.5 5044.6 5046.9</text><text x="3" y="577" font-family="'DejaVu Sans Condensed', 'DejaVu Sans', sans-serif" font-size="9.2" fill="#000" text-anchor="start" textLength="66.3" lengthAdjust="spacing" >MACD(12,26,9)</text><text x="71.8" y="577" font-family="'DejaVu Sans Condensed', 'DejaVu Sans', sans-serif" font-size="9.2" fill="#000" text-anchor="start" textLength="25.9" lengthAdjust="spacing" >-99.99</text><text x="100.6" y="577" font-family="'DejaVu Sans Condensed', 'DejaVu Sans', sans-serif" font-size="9.2" fill="#000" text-anchor="start" textLength="26.3" lengthAdjust="spacing" >-70.00</text><text x="3.3" y="704" font-family="'DejaVu Sans Condensed', 'DejaVu Sans', sans-serif" font-size="9.2" fill="#000" text-anchor="start" textLength="32" lengthAdjust="spacing" >RSI(14)</text><text x="37.9" y="704" font-family="'DejaVu Sans Condensed', 'DejaVu Sans', sans-serif" font-size="9.2" fill="#000" text-anchor="start" textLength="33" lengthAdjust="spacing" >27.9569</text><text x="1690" y="35" font-family="'DejaVu Sans Condensed', 'DejaVu Sans', sans-serif" font-size="9.2" fill="#000" text-anchor="start" textLength="28.5" lengthAdjust="spacing" >5904.0</text><text x="1690" y="68" font-family="'DejaVu Sans Condensed', 'DejaVu Sans', sans-serif" font-size="9.2" fill="#000" text-anchor="start" textLength="28.5" lengthAdjust="spacing" >5830.0</text><text x="1690" y="101" font-family="'DejaVu Sans Condensed', 'DejaVu Sans', sans-serif" font-size="9.2" fill="#000" text-anchor="start" textLength="28.5" lengthAdjust="spacing" >5754.0</text><text x="1690" y="134" font-family="'DejaVu Sans Condensed', 'DejaVu Sans', sans-serif" font-size="9.2" fill="#000" text-anchor="start" textLength="28.5" lengthAdjust="spacing" >5680.0</text><text x="1690" y="167" font-family="'DejaVu Sans Condensed', 'DejaVu Sans', sans-serif" font-size="9.2" fill="#000" text-anchor="start" textLength="28.5" lengthAdjust="spacing" >5606.0</text><text x="1690" y="200" font-family="'DejaVu Sans Condensed', 'DejaVu Sans', sans-serif" font-size="9.2" fill="#000" text-anchor="start" textLength="28.5" lengthAdjust="spacing" >5532.0</text><text x="1690" y="233" font-family="'DejaVu Sans Condensed', 'DejaVu Sans', sans-serif" font-size="9.2" fill="#000" text-anchor="start" textLength="28.5" lengthAdjust="spacing" >5458.0</text><text x="1690" y="266" font-family="'DejaVu Sans Condensed', 'DejaVu Sans', sans-serif" font-size="9.2" fill="#000" text-anchor="start" textLength="28.5" lengthAdjust="spacing" >5384.0</text><text x="1690" y="299" font-family="'DejaVu Sans Condensed', 'DejaVu Sans', sans-serif" font-size="9.2" fill="#000" text-anchor="start" textLength="28.5" lengthAdjust="spacing" >5310.0</text><text x="1690" y="332" font-family="'DejaVu Sans Condensed', 'DejaVu Sans', sans-serif" font-size="9.2" fill="#000" text-anchor="start" textLength="28.5" lengthAdjust="spacing" >5236.0</text><text x="1690" y="365" font-family="'DejaVu Sans Condensed', 'DejaVu Sans', sans-serif" font-size="9.2" fill="#000" text-anchor="start" textLength="28.5" lengthAdjust="spacing" >5160.0</text><text x="1690" y="431" font-family="'DejaVu Sans Condensed', 'DejaVu Sans', sans-serif" font-size="9.2" fill="#000" text-anchor="start" textLength="28.5" lengthAdjust="spacing" >5012.0</text><text x="1690" y="464" font-family="'DejaVu Sans Condensed', 'DejaVu Sans', sans-serif" font-size="9.2" fill="#000" text-anchor="start" textLength="28.5" lengthAdjust="spacing" >4938.0</text><text x="1690" y="497" font-family="'DejaVu Sans Condensed', 'DejaVu Sans', sans-serif" font-size="9.2" fill="#000" text-anchor="start" textLength="28.5" lengthAdjust="spacing" >4864.0</text><text x="1690" y="530" font-family="'DejaVu Sans Condensed', 'DejaVu Sans', sans-serif" font-size="9.2" fill="#000" text-anchor="start" textLength="28.5" lengthAdjust="spacing" >4790.0</text><text x="1690" y="563" font-family="'DejaVu Sans Condensed', 'DejaVu Sans', sans-serif" font-size="9.2" fill="#000" text-anchor="start" textLength="28.5" lengthAdjust="spacing" >4716.0</text><path fill="#000" d="M1685 31h2v1h-2zM1685 64h2v1h-2zM1685 97h2v1h-2zM1685 130h2v1h-2zM1685 163h2v1h-2zM1685 196h2v1h-2zM1685 229h2v1h-2zM1685 262h2v1h-2zM1685 295h2v1h-2zM1685 328h2v1h-2zM1685 361h2v1h-2zM1685 427h2v1h-2zM1685 460h2v1h-2zM1685 493h2v1h-2zM1685 526h2v1h-2zM1685 559h2v1h-2zM1685 394h2v1h-2zM1685 566h2v1h-2zM1685 634h2v1h-2zM1685 688h2v1h-2zM1685 693h2v1h-2zM1685 815h2v1h-2z" shape-rendering="crispEdges"/><text x="1688.5" y="575" font-family="'DejaVu Sans Condensed', 'DejaVu Sans', sans-serif" font-size="9.2" fill="#000" text-anchor="start" textLength="27.3" lengthAdjust="spacing" >138.31</text><text x="1688.4" y="638" font-family="'DejaVu Sans Condensed', 'DejaVu Sans', sans-serif" font-size="9.2" fill="#000" text-anchor="start" textLength="17.8" lengthAdjust="spacing" >0.00</text><text x="1687.8" y="686" font-family="'DejaVu Sans Condensed', 'DejaVu Sans', sans-serif" font-size="9.2" fill="#000" text-anchor="start" textLength="31.5" lengthAdjust="spacing" >-111.33</text><text x="1687.8" y="702" font-family="'DejaVu Sans Condensed', 'DejaVu Sans', sans-serif" font-size="9.2" fill="#000" text-anchor="start" textLength="15" lengthAdjust="spacing" >100</text><text x="1687.1" y="733" font-family="'DejaVu Sans Condensed', 'DejaVu Sans', sans-serif" font-size="9.2" fill="#000" text-anchor="start" textLength="10" lengthAdjust="spacing" >70</text><text x="1687.1" y="783" font-family="'DejaVu Sans Condensed', 'DejaVu Sans', sans-serif" font-size="9.2" fill="#000" text-anchor="start" textLength="10" lengthAdjust="spacing" >30</text><text x="1688.0" y="813" font-family="'DejaVu Sans Condensed', 'DejaVu Sans', sans-serif" font-size="9.2" fill="#000" text-anchor="start" textLength="5.2" lengthAdjust="spacing" >0</text><rect x="1686" y="71" width="36" height="11" fill="#FF0000" shape-rendering="crispEdges"/><text x="1690" y="80" font-family="'DejaVu Sans Condensed', 'DejaVu Sans', sans-serif" font-size="9.2" fill="#FFFFFF" text-anchor="start" textLength="28.5" lengthAdjust="spacing" >5800.0</text><rect x="1686" y="151" width="36" height="11" fill="#FF0000" shape-rendering="crispEdges"/><text x="1690" y="160" font-family="'DejaVu Sans Condensed', 'DejaVu Sans', sans-serif" font-size="9.2" fill="#FFFFFF" text-anchor="start" textLength="28.5" lengthAdjust="spacing" >5620.0</text><rect x="1686" y="242" width="36" height="11" fill="#FF0000" shape-rendering="crispEdges"/><text x="1690" y="251" font-family="'DejaVu Sans Condensed', 'DejaVu Sans', sans-serif" font-size="9.2" fill="#FFFFFF" text-anchor="start" textLength="28.5" lengthAdjust="spacing" >5415.0</text><rect x="1686" y="300" width="36" height="11" fill="#FF0000" shape-rendering="crispEdges"/><text x="1690" y="309" font-family="'DejaVu Sans Condensed', 'DejaVu Sans', sans-serif" font-size="9.2" fill="#FFFFFF" text-anchor="start" textLength="28.5" lengthAdjust="spacing" >5285.0</text><rect x="1686" y="391" width="36" height="11" fill="#32CD32" shape-rendering="crispEdges"/><text x="1690" y="400" font-family="'DejaVu Sans Condensed', 'DejaVu Sans', sans-serif" font-size="9.2" fill="#FFFFFF" text-anchor="start" textLength="28.5" lengthAdjust="spacing" >5080.0</text><rect x="1686" y="407" width="36" height="11" fill="#000000" shape-rendering="crispEdges"/><text x="1690" y="416" font-family="'DejaVu Sans Condensed', 'DejaVu Sans', sans-serif" font-size="9.2" fill="#FFFFFF" text-anchor="start" textLength="28.5" lengthAdjust="spacing" >5046.9</text><rect x="1686" y="482" width="36" height="11" fill="#4169E1" shape-rendering="crispEdges"/><text x="1690" y="491" font-family="'DejaVu Sans Condensed', 'DejaVu Sans', sans-serif" font-size="9.2" fill="#FFFFFF" text-anchor="start" textLength="28.5" lengthAdjust="spacing" >4875.0</text><rect x="1686" y="529" width="36" height="11" fill="#4169E1" shape-rendering="crispEdges"/><text x="1690" y="538" font-family="'DejaVu Sans Condensed', 'DejaVu Sans', sans-serif" font-size="9.2" fill="#FFFFFF" text-anchor="start" textLength="28.5" lengthAdjust="spacing" >4770.0</text><text x="61.6" y="829" font-family="'DejaVu Sans Condensed', 'DejaVu Sans', sans-serif" font-size="9.2" fill="#000" text-anchor="start" textLength="52.8" lengthAdjust="spacing" >9 Nov 05:00</text><text x="125.6" y="829" font-family="'DejaVu Sans Condensed', 'DejaVu Sans', sans-serif" font-size="9.2" fill="#000" text-anchor="start" textLength="57.4" lengthAdjust="spacing" >13 Nov 05:00</text><text x="189.6" y="829" font-family="'DejaVu Sans Condensed', 'DejaVu Sans', sans-serif" font-size="9.2" fill="#000" text-anchor="start" textLength="57.3" lengthAdjust="spacing" >19 Nov 05:00</text><text x="253.6" y="829" font-family="'DejaVu Sans Condensed', 'DejaVu Sans', sans-serif" font-size="9.2" fill="#000" text-anchor="start" textLength="57.3" lengthAdjust="spacing" >25 Nov 05:00</text><text x="317.6" y="829" font-family="'DejaVu Sans Condensed', 'DejaVu Sans', sans-serif" font-size="9.2" fill="#000" text-anchor="start" textLength="50.3" lengthAdjust="spacing" >1 Dec 05:00</text><text x="381.6" y="829" font-family="'DejaVu Sans Condensed', 'DejaVu Sans', sans-serif" font-size="9.2" fill="#000" text-anchor="start" textLength="50.4" lengthAdjust="spacing" >7 Dec 05:00</text><text x="445.6" y="829" font-family="'DejaVu Sans Condensed', 'DejaVu Sans', sans-serif" font-size="9.2" fill="#000" text-anchor="start" textLength="55.4" lengthAdjust="spacing" >11 Dec 05:00</text><text x="509.6" y="829" font-family="'DejaVu Sans Condensed', 'DejaVu Sans', sans-serif" font-size="9.2" fill="#000" text-anchor="start" textLength="55.3" lengthAdjust="spacing" >17 Dec 05:00</text><text x="573.6" y="829" font-family="'DejaVu Sans Condensed', 'DejaVu Sans', sans-serif" font-size="9.2" fill="#000" text-anchor="start" textLength="55.3" lengthAdjust="spacing" >23 Dec 05:00</text><text x="637.6" y="829" font-family="'DejaVu Sans Condensed', 'DejaVu Sans', sans-serif" font-size="9.2" fill="#000" text-anchor="start" textLength="55.3" lengthAdjust="spacing" >29 Dec 05:00</text><text x="701.6" y="829" font-family="'DejaVu Sans Condensed', 'DejaVu Sans', sans-serif" font-size="9.2" fill="#000" text-anchor="start" textLength="48.4" lengthAdjust="spacing" >5 Jan 05:00</text><text x="765.6" y="829" font-family="'DejaVu Sans Condensed', 'DejaVu Sans', sans-serif" font-size="9.2" fill="#000" text-anchor="start" textLength="53.4" lengthAdjust="spacing" >11 Jan 05:00</text><text x="829.6" y="829" font-family="'DejaVu Sans Condensed', 'DejaVu Sans', sans-serif" font-size="9.2" fill="#000" text-anchor="start" textLength="53.3" lengthAdjust="spacing" >15 Jan 05:00</text><text x="893.6" y="829" font-family="'DejaVu Sans Condensed', 'DejaVu Sans', sans-serif" font-size="9.2" fill="#000" text-anchor="start" textLength="53.3" lengthAdjust="spacing" >21 Jan 05:00</text><text x="957.6" y="829" font-family="'DejaVu Sans Condensed', 'DejaVu Sans', sans-serif" font-size="9.2" fill="#000" text-anchor="start" textLength="53.2" lengthAdjust="spacing" >27 Jan 05:00</text><text x="1021.6" y="829" font-family="'DejaVu Sans Condensed', 'DejaVu Sans', sans-serif" font-size="9.2" fill="#000" text-anchor="start" textLength="50.5" lengthAdjust="spacing" >2 Feb 05:00</text><text x="1085.6" y="829" font-family="'DejaVu Sans Condensed', 'DejaVu Sans', sans-serif" font-size="9.2" fill="#000" text-anchor="start" textLength="50.4" lengthAdjust="spacing" >8 Feb 05:00</text><text x="1149.6" y="829" font-family="'DejaVu Sans Condensed', 'DejaVu Sans', sans-serif" font-size="9.2" fill="#000" text-anchor="start" textLength="55.5" lengthAdjust="spacing" >19 Feb 05:00</text><text x="1213.6" y="829" font-family="'DejaVu Sans Condensed', 'DejaVu Sans', sans-serif" font-size="9.2" fill="#000" text-anchor="start" textLength="55.0" lengthAdjust="spacing" >25 Feb 05:00</text><text x="1277.6" y="829" font-family="'DejaVu Sans Condensed', 'DejaVu Sans', sans-serif" font-size="9.2" fill="#000" text-anchor="start" textLength="49.8" lengthAdjust="spacing" >3 Mar 05:00</text><text x="-1.6" y="829" font-family="'DejaVu Sans Condensed', 'DejaVu Sans', sans-serif" font-size="9.2" fill="#000" text-anchor="start" textLength="48.5" lengthAdjust="spacing" >8 Nov 2020</text><path fill="#000" d="M63 817h1v3h-1zM127 817h1v3h-1zM191 817h1v3h-1zM255 817h1v3h-1zM319 817h1v3h-1zM383 817h1v3h-1zM447 817h1v3h-1zM511 817h1v3h-1zM575 817h1v3h-1zM639 817h1v3h-1zM703 817h1v3h-1zM767 817h1v3h-1zM831 817h1v3h-1zM895 817h1v3h-1zM959 817h1v3h-1zM1023 817h1v3h-1zM1087 817h1v3h-1zM1151 817h1v3h-1zM1215 817h1v3h-1zM1279 817h1v3h-1z" shape-rendering="crispEdges"/><text transform="translate(0,362.6) scale(1.065,1)" font-family="'Liberation Sans', 'Noto Sans CJK SC', sans-serif" font-size="37.3" fill="#EB141E" x="1292.0 1324.9 1358.5 1391.9 1426.1" y="0">多空转折点</text><text x="1556.5" y="361.5" font-family="'DejaVu Sans', sans-serif" font-size="39" letter-spacing="-4.4" fill="#EB141E">5080</text></g></svg></body></html>
